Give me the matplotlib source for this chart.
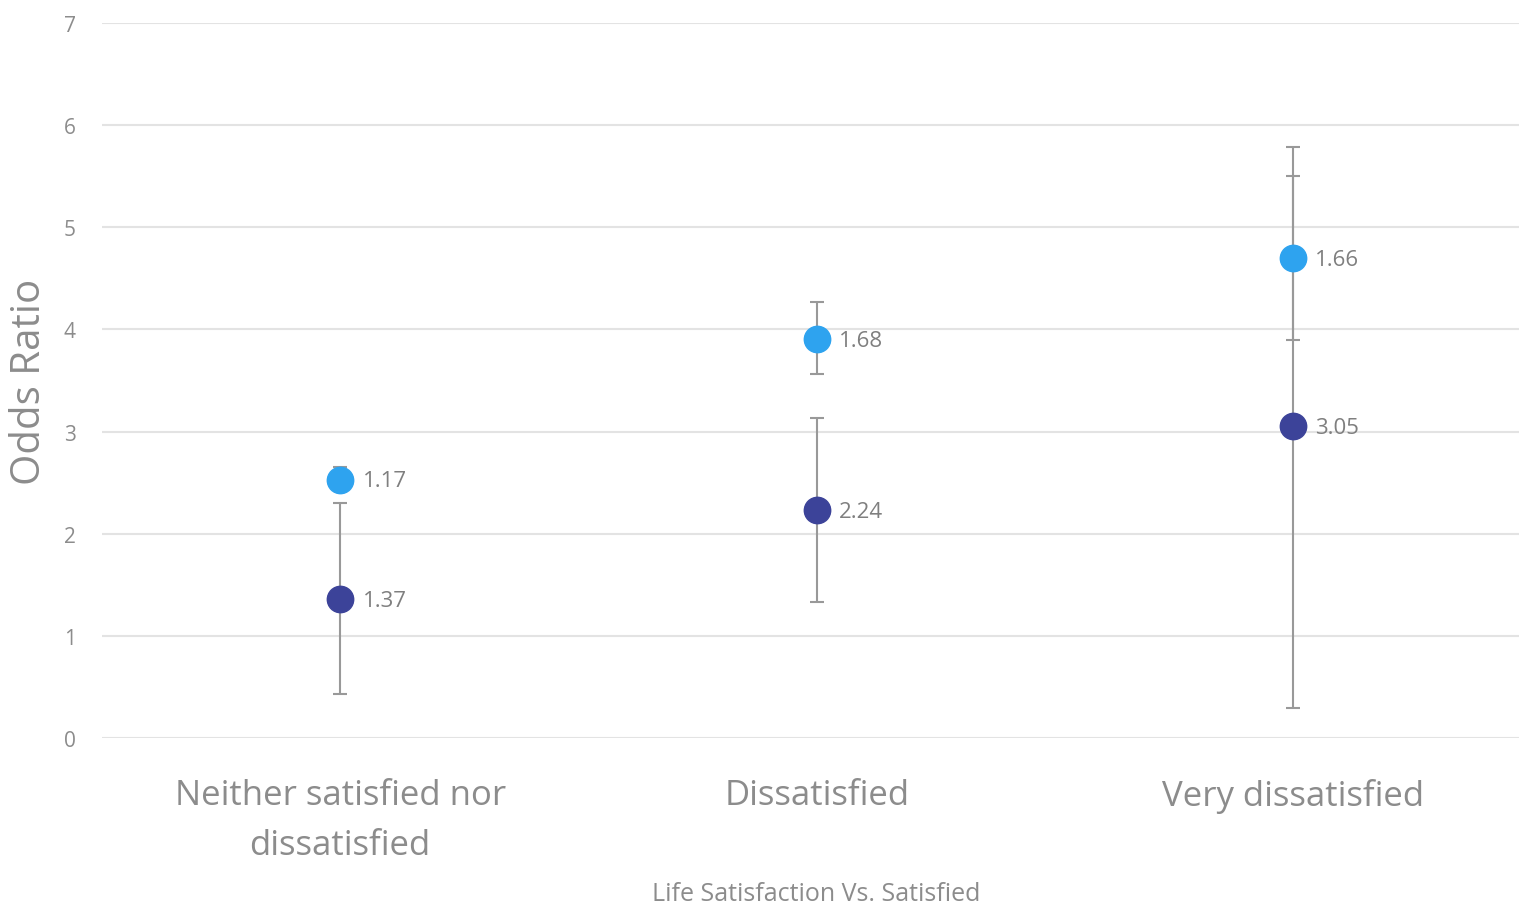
import matplotlib.pyplot as plt
import numpy as np

plt.rcParams['font.family'] = ['Open Sans', 'DejaVu Sans']

categorias = ["Neither satisfied nor\ndissatisfied", "Dissatisfied", "Very dissatisfied"]

# serie azul claro
claro = [2.53, 3.91, 4.70]
claro_inf = [2.42, 3.56, 3.90]
claro_sup = [2.65, 4.27, 5.50]
claro_rotulos = ["1.17", "1.68", "1.66"]

# serie azul escuro
escuro = [1.36, 2.23, 3.05]
escuro_inf = [0.43, 1.33, 0.29]
escuro_sup = [2.30, 3.13, 5.79]
escuro_rotulos = ["1.37", "2.24", "3.05"]

x = np.arange(len(categorias))

fig = plt.figure(figsize=(15.19, 9.04), dpi=100)
ax = fig.add_axes([102/1519, 1-739/904, 1-102/1519, (739-24)/904])

for vals, inf, sup, cor, rot in [(claro, claro_inf, claro_sup, "#2EA3EF", claro_rotulos),
                                 (escuro, escuro_inf, escuro_sup, "#3C4399", escuro_rotulos)]:
    vals = np.array(vals)
    erro = [vals - np.array(inf), np.array(sup) - vals]
    ax.errorbar(x, vals, yerr=erro, fmt="none", ecolor="#999999", elinewidth=1.5,
                capsize=5, capthick=1.5, zorder=2)
    ax.plot(x, vals, "o", color=cor, markersize=19, zorder=3, linestyle="none")
    for xi, yi, t in zip(x, vals, rot):
        ax.annotate(t, (xi, yi), xytext=(16, -1), textcoords="offset points",
                    ha="left", va="center", fontsize=16, color="#7f7f7f")

ax.set_xlim(-0.5, 2.474)
ax.set_ylim(0, 7)
ax.set_yticks(range(8))
ax.set_xticks(x)
ax.set_xticklabels(categorias, fontsize=25, color="#8c8c8c", linespacing=1.6)
ax.tick_params(axis="x", length=0, pad=29)
ax.tick_params(axis="y", length=0, pad=19, labelsize=15, labelcolor="#8c8c8c")
ax.grid(axis="y", color="#e3e3e3", linewidth=1.5)
ax.set_axisbelow(True)
for s in ax.spines.values():
    s.set_visible(False)

ax.set_ylabel("Odds Ratio", fontsize=29, color="#8c8c8c")
ax.yaxis.set_label_coords(-0.037, 0.5)
ax.set_xlabel("Life Satisfaction Vs. Satisfied", fontsize=18, color="#8c8c8c")
ax.xaxis.set_label_coords(0.504, -0.2)

fig.savefig("out.png", dpi=100)
